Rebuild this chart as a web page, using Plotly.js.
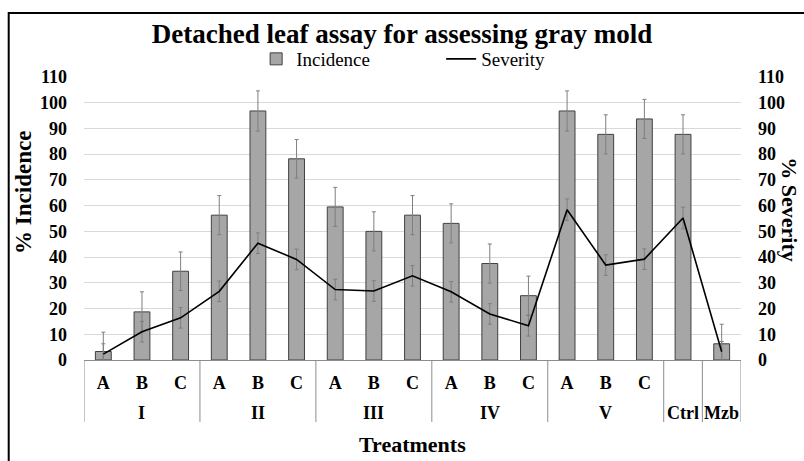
<!DOCTYPE html>
<html>
<head>
<meta charset="utf-8">
<script src="https://cdn.plot.ly/plotly-3.0.1.min.js"></script>
<style>
html,body{margin:0;padding:0;background:#fff;}
#chart{width:804px;height:461px;}
</style>
</head>
<body>
<div id="chart"></div>
<script>
const groups = ["I","I","I","II","II","II","III","III","III","IV","IV","IV","V","V","V","Ctrl","Mzb"];
const subcats = ["A","B","C","A","B","C","A","B","C","A","B","C","A","B","C","",""];
const incidence = [3.3,18.7,34.5,56.3,96.8,78.2,59.5,50.0,56.3,53.1,37.5,25.0,96.8,87.7,93.7,87.7,6.3];
const incidenceErr = [7.5,7.8,7.5,7.6,7.8,7.5,7.6,7.6,7.6,7.6,7.6,7.6,7.8,7.6,7.6,7.6,7.6];
const severity = [2.3,11.0,16.4,26.7,45.4,39.1,27.4,26.8,32.7,26.5,17.9,13.3,58.4,36.9,39.2,55.2,3.2];
const severityErr = [4,4,4,4,4,4,4,4,4,4,4,4,4.2,4,4,4.2,4];
const yTicks = [0,10,20,30,40,50,60,70,80,90,100,110];

const serif = "Liberation Serif, Times New Roman, serif";
const axisGray = "#8c8c8c";

// category positions along the x axis (one slot per treatment)
const xPos = groups.map((g, i) => i);

// group spans for labels and dividers
const groupSpans = [];
groups.forEach((g, i) => {
  const last = groupSpans[groupSpans.length - 1];
  if (last && last.name === g) last.end = i;
  else groupSpans.push({name: g, start: i, end: i});
});

const groupLabelY = -0.187;
const dividerBottom = -0.219;

const annotations = groupSpans.map(s => ({
  text: "<b>" + s.name + "</b>",
  xref: "x", yref: "paper",
  x: (s.start + s.end) / 2, y: groupLabelY,
  xanchor: "center", yanchor: "middle",
  showarrow: false,
  font: {family: serif, size: 18, color: "#000"}
}));

annotations.push({
  text: "<b>Treatments</b>",
  xref: "paper", yref: "paper",
  x: 0.5, y: -0.300,
  xanchor: "center", yanchor: "middle",
  showarrow: false,
  font: {family: serif, size: 22, color: "#000"}
});
annotations.push({
  text: "<b>% Incidence</b>",
  xref: "paper", yref: "paper",
  x: -0.091, y: 0.591,
  xanchor: "center", yanchor: "middle",
  textangle: -90,
  showarrow: false,
  font: {family: serif, size: 23, color: "#000"}
});
annotations.push({
  text: "<b>% Severity</b>",
  xref: "paper", yref: "paper",
  x: 1.074, y: 0.534,
  xanchor: "center", yanchor: "middle",
  textangle: 90,
  showarrow: false,
  font: {family: serif, size: 22, color: "#000"}
});

const shapes = [];
const boundaries = [groupSpans[0].start - 0.5].concat(groupSpans.map(s => s.end + 0.5));
boundaries.forEach(b => {
  shapes.push({
    type: "line", xref: "x", yref: "paper",
    x0: b, x1: b, y0: 0, y1: dividerBottom,
    line: {color: axisGray, width: 1}
  });
});
shapes.push({
  type: "rect", xref: "paper", yref: "paper",
  x0: -0.1146, x1: 1.2, y0: -0.6, y1: 1.226,
  line: {color: "#000000", width: 2},
  fillcolor: "rgba(0,0,0,0)",
  layer: "above"
});

const traces = [
  {
    type: "bar",
    name: "Incidence",
    x: xPos,
    y: incidence,
    width: 0.41,
    marker: {color: "#a6a6a6", line: {color: "#404040", width: 1}},
    error_y: {type: "data", array: incidenceErr, visible: true, color: "#7f7f7f", thickness: 1, width: 2}
  },
  {
    type: "scatter",
    mode: "lines",
    name: "Severity",
    x: xPos,
    y: severity,
    yaxis: "y2",
    line: {color: "#000000", width: 1.6},
    error_y: {type: "data", array: severityErr, visible: true, color: "#7f7f7f", thickness: 1, width: 2}
  }
];

const layout = {
  width: 804,
  height: 461,
  margin: {l: 84, r: 63, t: 77, b: 101},
  paper_bgcolor: "#ffffff",
  plot_bgcolor: "#ffffff",
  font: {family: serif, color: "#000000"},
  title: {
    text: "<b>Detached leaf assay for assessing gray mold</b>",
    font: {family: serif, size: 27, color: "#000"},
    x: 0.5, xanchor: "center", y: 0.928, yanchor: "middle"
  },
  showlegend: true,
  legend: {
    orientation: "h",
    x: 0.262, xanchor: "left",
    y: 1.0636, yanchor: "middle",
    font: {family: serif, size: 19, color: "#000"},
    entrywidth: 140, entrywidthmode: "pixels",
    bgcolor: "rgba(0,0,0,0)"
  },
  xaxis: {
    type: "linear",
    range: [-0.5, groups.length - 0.5],
    tickvals: xPos,
    ticktext: subcats.map(s => s ? "<b>" + s + "</b>" : ""),
    showgrid: false,
    zeroline: false,
    showline: true,
    linecolor: axisGray,
    linewidth: 1,
    ticks: "",
    ticklabelstandoff: 6,
    automargin: false,
    tickfont: {family: serif, size: 18, color: "#000"},
    fixedrange: true
  },
  yaxis: {
    range: [0, 110],
    tickvals: yTicks,
    ticktext: yTicks.map(v => "<b>" + v + "</b>"),
    showgrid: true,
    gridcolor: "#d9d9d9",
    gridwidth: 1,
    zeroline: false,
    showline: false,
    ticks: "",
    ticklabelstandoff: 16,
    automargin: false,
    tickfont: {family: serif, size: 18, color: "#000"},
    fixedrange: true
  },
  yaxis2: {
    range: [0, 110],
    overlaying: "y",
    side: "right",
    tickvals: yTicks,
    ticktext: yTicks.map(v => "<b>" + v + "</b>"),
    showgrid: false,
    zeroline: false,
    showline: false,
    ticks: "",
    ticklabelstandoff: 16,
    automargin: false,
    tickfont: {family: serif, size: 18, color: "#000"},
    fixedrange: true
  },
  annotations: annotations,
  shapes: shapes
};

Plotly.newPlot("chart", traces, layout, {displayModeBar: false, staticPlot: true});
</script>
</body>
</html>
